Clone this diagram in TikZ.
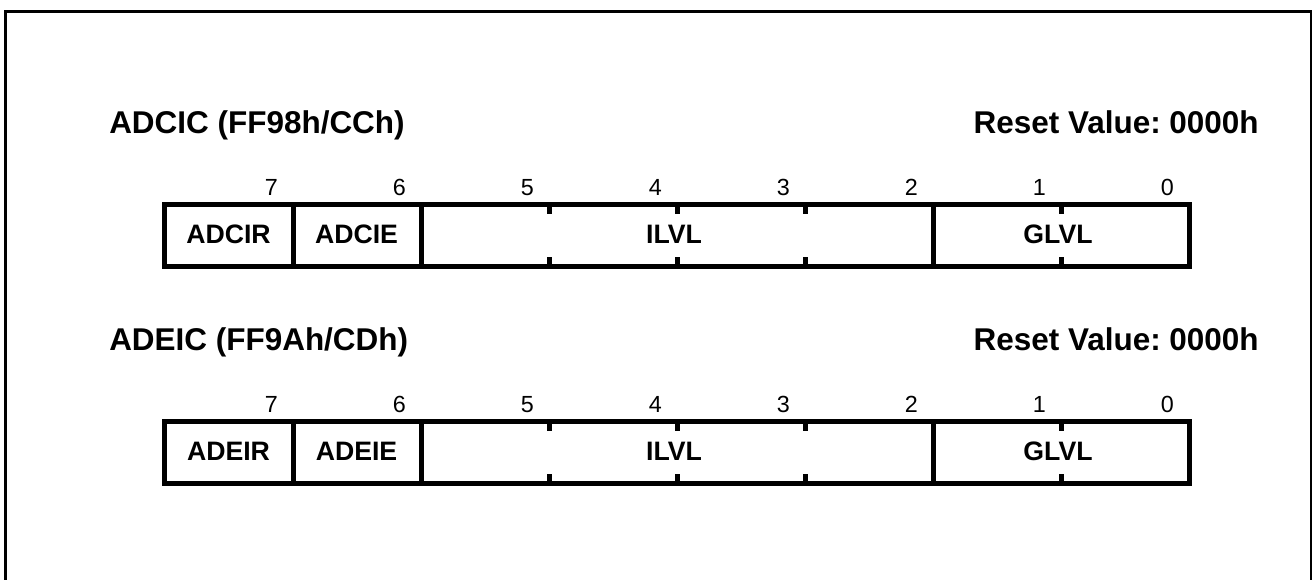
\documentclass[tikz,border=0pt]{standalone}
\usepackage{fontspec}
\setmainfont{Liberation Sans}
\frenchspacing
\newcommand\drawreg[5]{%
  \node[title, anchor=base west] (#1title) at (109,{#2+134}) {#3};
  \node[title, anchor=base east] (#1reset) at (1259,{#2+134}) {Reset Value: 0000h};
  \draw[regline] (164.5,{#2+204.5}) rectangle (1189.5,{#2+267});
  \foreach \xx in {293,421,933} \draw[regline] (\xx,{#2+204.5}) -- (\xx,{#2+267});
  \foreach \xx in {549,677,805,1061} {%
    \draw[regline] (\xx,{#2+204.5}) -- (\xx,{#2+214.5});
    \draw[regline] (\xx,{#2+267}) -- (\xx,{#2+257});}
  \foreach \b in {0,...,7} \node[bitnum] (#1bit\b) at ({164.5+(8-\b)*128-14.5},{#2+195.5}) {\b};
  \node[field] (#1fa) at (228.5,{#2+234.5}) {#4};
  \node[field] (#1fb) at (356.5,{#2+234.5}) {#5};
  \node[field] (#1ilvl) at (674,{#2+234.5}) {ILVL};
  \node[field] (#1glvl) at (1058,{#2+234.5}) {GLVL};
}
\begin{document}
\begin{tikzpicture}[x=0.75pt,y=-0.75pt,
  title/.style={font=\fontsize{23.6}{28}\selectfont\bfseries, inner sep=0pt},
  bitnum/.style={font=\fontsize{17.5}{21}\selectfont, inner sep=0pt, anchor=base east},
  field/.style={font=\fontsize{20}{24}\selectfont\bfseries, inner sep=0pt},
  regline/.style={line width=3.75pt, line join=miter},
  frameline/.style={line width=1.9pt}]
\useasboundingbox (0,0) rectangle (1312,580);
\begin{scope}
  \clip (0,0) rectangle (1312,580);
  \draw[frameline] (5.5,600) -- (5.5,11.5) -- (1311,11.5) -- (1311,600);
\end{scope}
\drawreg{r1}{0}{ADCIC (FF98h/CCh)}{ADCIR}{ADCIE}
\drawreg{r2}{216.5}{ADEIC (FF9Ah/CDh)}{ADEIR}{ADEIE}
\end{tikzpicture}
\end{document}
